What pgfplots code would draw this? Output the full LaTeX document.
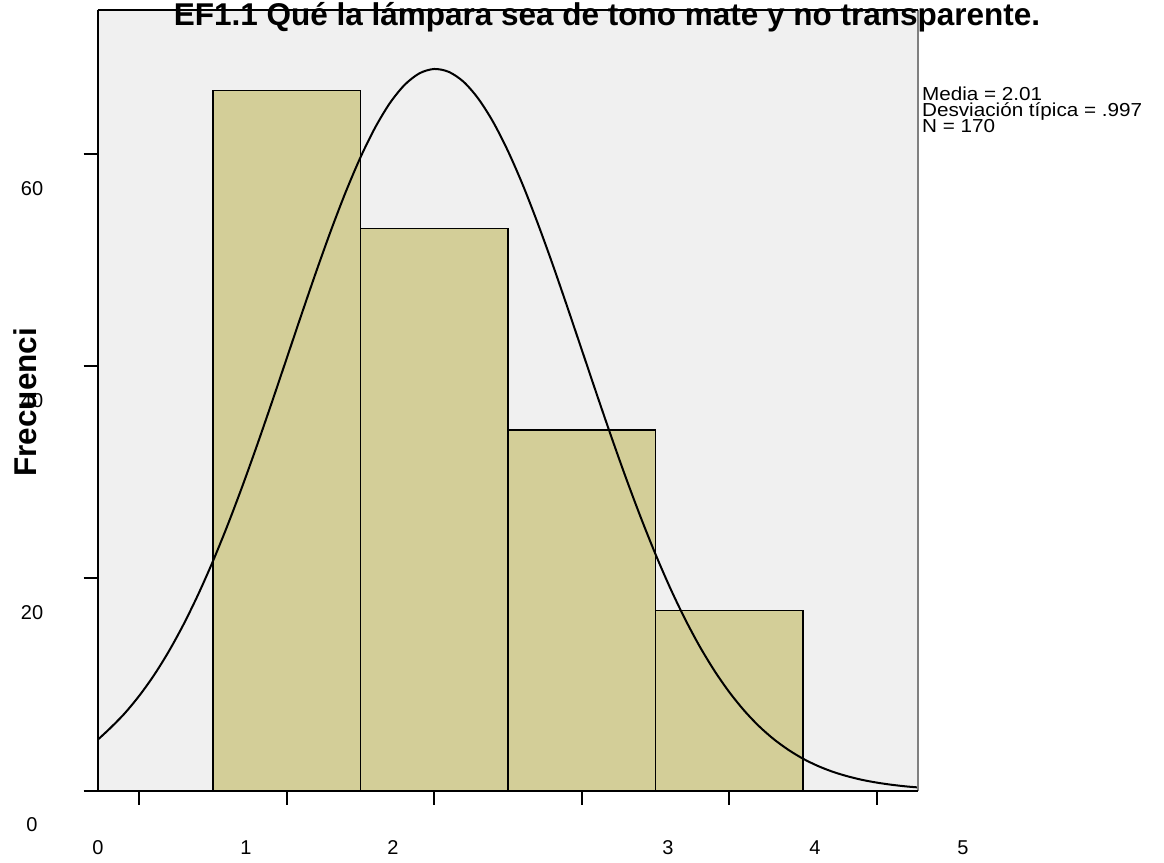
\documentclass[border=0pt]{standalone}
\usepackage{pgfplots}
\pgfplotsset{compat=1.18}
\usepackage{fontspec}
\setmainfont{Liberation Sans}
\definecolor{bgc}{RGB}{240,240,240}
\definecolor{barc}{RGB}{211,206,152}
\begin{document}
\begin{tikzpicture}
\path[use as bounding box] (0,0) rectangle (582pt,431.5pt);
\begin{axis}[
  at={(48.85pt,36.15pt)}, anchor=south west,
  scale only axis, width=410.15pt, height=390.35pt,
  xmin=-0.28, xmax=5.278, ymin=0, ymax=73.58,
  axis line style={draw=none},
  axis background/.style={fill=bgc},
  xtick={0,1,2,3,4,5}, xticklabels={},
  ytick={0,20,40,60}, yticklabels={},
  xtick pos=bottom, ytick pos=left,
  tick align=outside, major tick length=7pt,
  tick style={black, line width=1pt},
  clip=false,
]
\addplot[ybar interval, fill=barc, draw=black, line width=0.7pt] coordinates {
 (0.5,66) (1.5,53) (2.5,34) (3.5,17) (4.5,17)};
\addplot[smooth, black, line width=1pt] coordinates {
 (-0.28,4.80) (-0.2,5.83) (-0.1,7.245) (0,8.92) (0.1,10.856) (0.2,13.09) (0.3,15.626)
 (0.4,18.47) (0.5,21.605) (0.6,25.02) (0.7,28.691) (0.8,32.57) (0.9,36.599)
 (1.0,40.72) (1.1,44.847) (1.2,48.90) (1.3,52.786) (1.4,56.41) (1.5,59.678)
 (1.6,62.50) (1.7,64.810) (1.8,66.53) (1.9,67.61) (2.0,68.02) (2.1,67.74)
 (2.2,66.80) (2.3,65.20) (2.4,63.01) (2.5,60.28) (2.6,57.10) (2.7,53.53)
 (2.8,49.70) (2.9,45.67) (3.0,41.55) (3.1,37.42) (3.2,33.36) (3.3,29.45)
 (3.4,25.74) (3.5,22.27) (3.6,19.07) (3.7,16.17) (3.8,13.57) (3.9,11.28)
 (4.0,9.28) (4.1,7.558) (4.2,6.09) (4.3,4.864) (4.4,3.85) (4.5,3.007) (4.6,2.33)
 (4.7,1.786) (4.8,1.36) (4.9,1.019) (5.0,0.76) (5.1,0.558) (5.2,0.40) (5.278,0.31)};
\draw[gray, line width=0.6pt] (rel axis cs:1,0) -- (rel axis cs:1,1);
\draw[black, line width=0.6pt] (rel axis cs:0,1) -- (rel axis cs:1,1);
\draw[black, line width=1pt] (rel axis cs:0,0) -- (rel axis cs:0,1);
\draw[black, line width=1pt] (rel axis cs:0,0) -- (rel axis cs:1,0);
% misplaced tick labels as in the original
\node[font=\fontsize{10}{12}\selectfont] at (axis cs:-0.278,-5.4) {0};
\node[font=\fontsize{10}{12}\selectfont] at (axis cs:0.725,-5.4) {1};
\node[font=\fontsize{10}{12}\selectfont] at (axis cs:1.721,-5.4) {2};
\node[font=\fontsize{10}{12}\selectfont] at (axis cs:3.584,-5.4) {3};
\node[font=\fontsize{10}{12}\selectfont] at (axis cs:4.580,-5.4) {4};
\node[font=\fontsize{10}{12}\selectfont] at (axis cs:5.583,-5.4) {5};
\node[font=\fontsize{10}{12}\selectfont] at (axis cs:-0.725,56.78) {60};
\node[font=\fontsize{10}{12}\selectfont] at (axis cs:-0.725,36.8) {40};
\node[font=\fontsize{10}{12}\selectfont] at (axis cs:-0.725,16.78) {20};
\node[font=\fontsize{10}{12}\selectfont] at (axis cs:-0.725,-3.23) {0};
\node[font=\bfseries\fontsize{15.75}{18}\selectfont, rotate=90] at (axis cs:-0.772,36.6) {Frecuenci};
\node[font=\bfseries\fontsize{15.75}{18}\selectfont, anchor=base] at (axis cs:3.171,72.08) {EF1.1 Qué la lámpara sea de tono mate y no transparente.};
\node[font=\fontsize{9.4}{11}\selectfont, xscale=1.1, anchor=base west, inner sep=0pt] at (axis cs:5.303,65.07) {Media = 2.01};
\node[font=\fontsize{9.4}{11}\selectfont, xscale=1.1, anchor=base west, inner sep=0pt] at (axis cs:5.303,63.56) {Desviación típica = .997};
\node[font=\fontsize{9.4}{11}\selectfont, xscale=1.1, anchor=base west, inner sep=0pt] at (axis cs:5.303,62.05) {N = 170};
\end{axis}
\end{tikzpicture}
\end{document}
